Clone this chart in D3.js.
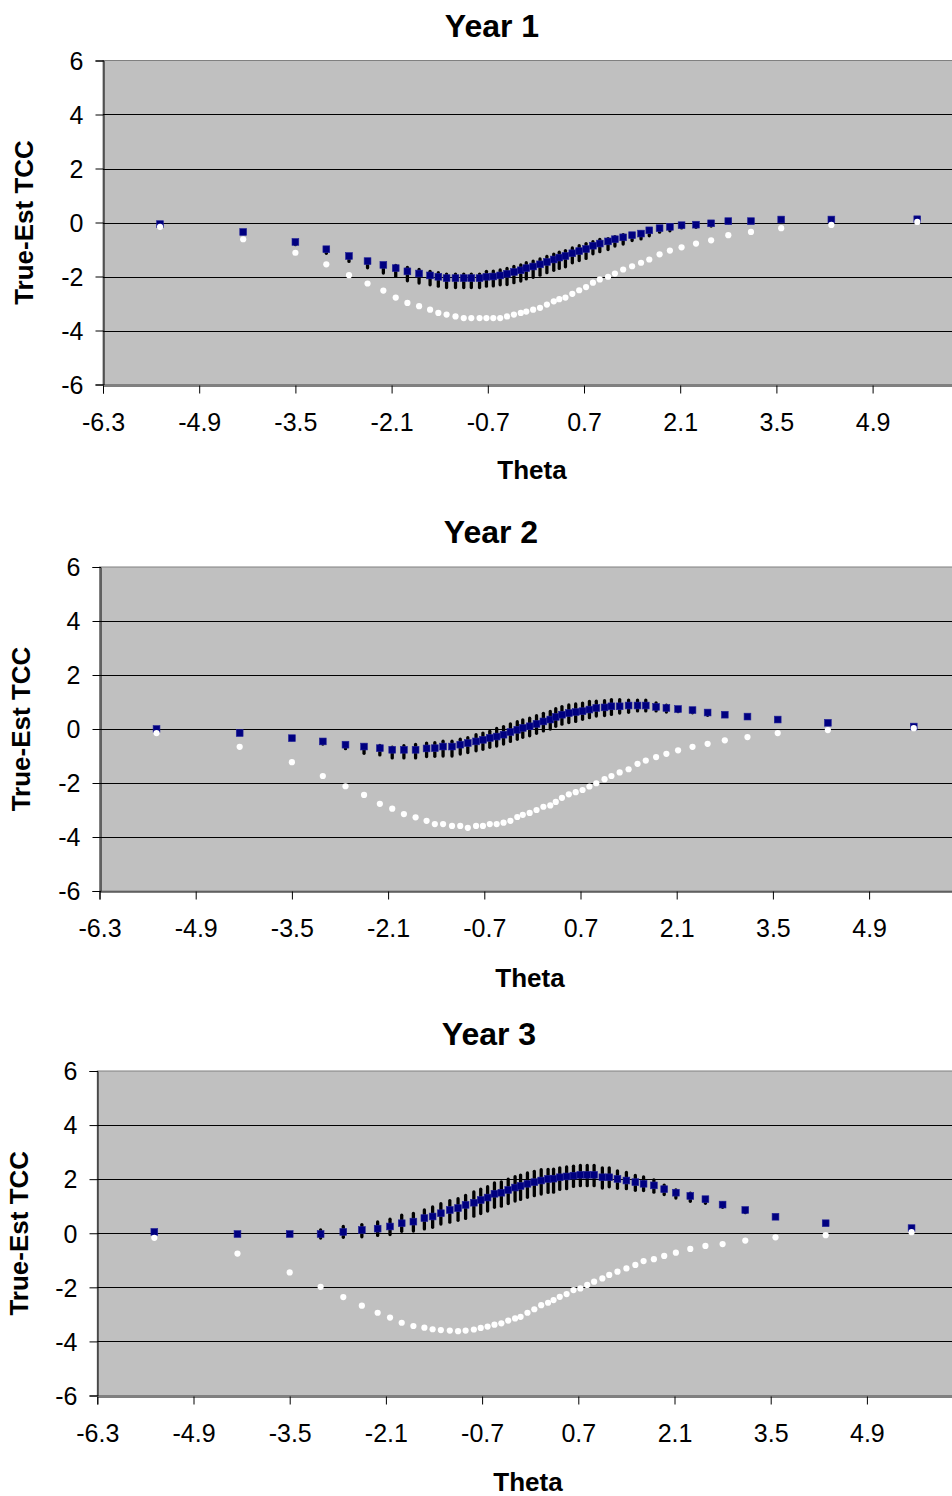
<!DOCTYPE html>
<html>
<head>
<meta charset="utf-8">
<script src="https://cdn.jsdelivr.net/npm/d3@7"></script>
<style>
  body { margin: 0; background: #fff; }
  text { font-family: "Liberation Sans", Arial, sans-serif; }
</style>
</head>
<body>
<svg id="chart" width="952" height="1496"></svg>
<script>
// theta points (same grid in every year)
var theta = [-5.47,-4.26,-3.50,-3.05,-2.72,-2.45,-2.22,-2.04,-1.87,-1.70,-1.54,-1.42,-1.30,-1.17,-1.05,-0.94,-0.82,-0.72,-0.62,-0.52,
  -0.42,-0.32,-0.22,-0.14,-0.04,0.06,0.16,0.26,0.34,0.43,0.53,0.63,0.73,0.83,0.93,1.05,1.15,1.27,1.40,1.53,
  1.65,1.80,1.95,2.12,2.33,2.55,2.80,3.13,3.57,4.30,5.55];

var xTicks = [-6.3, -4.9, -3.5, -2.1, -0.7, 0.7, 2.1, 3.5, 4.9];
var yTicks = [-6, -4, -2, 0, 2, 4, 6];

// Year 1
var mean1 = [-0.06,-0.35,-0.72,-0.99,-1.24,-1.43,-1.57,-1.69,-1.81,-1.89,-1.96,-2.01,-2.06,-2.06,-2.06,-2.06,-2.06,-2.01,-2.00,-1.96,
  -1.90,-1.83,-1.77,-1.69,-1.63,-1.55,-1.46,-1.37,-1.30,-1.24,-1.14,-1.06,-0.98,-0.86,-0.78,-0.70,-0.62,-0.55,-0.47,-0.41,
  -0.29,-0.21,-0.16,-0.10,-0.08,-0.03,0.05,0.05,0.11,0.11,0.12];
var white1 = [-0.16,-0.62,-1.12,-1.55,-1.95,-2.26,-2.52,-2.78,-2.98,-3.10,-3.23,-3.35,-3.41,-3.48,-3.54,-3.54,-3.54,-3.54,-3.54,-3.54,
  -3.48,-3.41,-3.35,-3.30,-3.23,-3.16,-3.04,-2.92,-2.84,-2.78,-2.64,-2.51,-2.39,-2.23,-2.11,-2.01,-1.89,-1.74,-1.62,-1.49,
  -1.37,-1.18,-1.04,-0.92,-0.78,-0.66,-0.47,-0.35,-0.21,-0.09,0.02];
var up1 = [0,0,0,0,0,0.05,0.05,0.1,0.15,0.15,0.15,0.15,0.15,0.15,0.15,0.15,0.15,0.2,0.2,0.2,
  0.2,0.2,0.2,0.2,0.2,0.2,0.2,0.2,0.2,0.2,0.2,0.2,0.2,0.15,0.15,0.1,0.1,0.1,0.05,0.05,
  0.05,0,0,0,0,0,0,0,0,0,0];
var down1 = [0,0.05,0.1,0.15,0.2,0.25,0.3,0.3,0.35,0.35,0.35,0.35,0.35,0.35,0.35,0.35,0.35,0.35,0.35,0.35,
  0.4,0.4,0.4,0.4,0.4,0.4,0.4,0.4,0.4,0.4,0.35,0.35,0.35,0.3,0.3,0.3,0.25,0.25,0.2,0.2,
  0.2,0.15,0.15,0.1,0.1,0.1,0.05,0.05,0,0,0];

// Year 2
var mean2 = [0.00,-0.15,-0.34,-0.46,-0.58,-0.65,-0.71,-0.77,-0.77,-0.77,-0.72,-0.71,-0.65,-0.65,-0.58,-0.52,-0.46,-0.40,-0.33,-0.28,
  -0.21,-0.11,-0.03,0.04,0.10,0.19,0.28,0.35,0.45,0.53,0.59,0.63,0.66,0.72,0.78,0.80,0.84,0.84,0.87,0.87,
  0.87,0.82,0.78,0.74,0.70,0.61,0.53,0.46,0.35,0.23,0.09];
var white2 = [-0.15,-0.66,-1.23,-1.74,-2.12,-2.44,-2.77,-2.95,-3.15,-3.27,-3.40,-3.52,-3.52,-3.59,-3.59,-3.66,-3.59,-3.59,-3.52,-3.52,
  -3.47,-3.40,-3.26,-3.18,-3.11,-3.00,-2.88,-2.83,-2.70,-2.55,-2.42,-2.34,-2.26,-2.13,-2.01,-1.86,-1.74,-1.61,-1.49,-1.29,
  -1.17,-1.04,-0.92,-0.79,-0.66,-0.55,-0.42,-0.30,-0.15,-0.04,0.03];
var up2 = [0,0,0,0,0,0.05,0.1,0.1,0.15,0.2,0.2,0.2,0.2,0.2,0.2,0.2,0.25,0.25,0.25,0.3,
  0.3,0.3,0.3,0.3,0.3,0.3,0.3,0.3,0.3,0.3,0.3,0.3,0.3,0.3,0.25,0.25,0.25,0.25,0.2,0.2,
  0.2,0.15,0.1,0.05,0.05,0,0,0,0,0,0];
var down2 = [0,0.05,0.05,0.1,0.15,0.25,0.25,0.3,0.3,0.3,0.3,0.3,0.35,0.35,0.35,0.35,0.35,0.35,0.35,0.35,
  0.35,0.35,0.35,0.35,0.35,0.35,0.35,0.35,0.35,0.35,0.35,0.35,0.3,0.3,0.3,0.3,0.3,0.25,0.25,0.2,
  0.2,0.15,0.15,0.1,0.1,0.1,0.05,0.05,0,0,0];

// Year 3
var mean3 = [0.05,-0.03,-0.03,-0.03,0.05,0.12,0.17,0.25,0.37,0.43,0.56,0.62,0.74,0.86,0.93,1.05,1.13,1.23,1.32,1.46,
  1.50,1.60,1.69,1.75,1.83,1.89,1.95,2.01,2.02,2.07,2.10,2.13,2.16,2.16,2.16,2.07,2.07,2.01,1.95,1.89,
  1.83,1.77,1.63,1.50,1.38,1.26,1.06,0.86,0.61,0.37,0.19];
var white3 = [-0.17,-0.75,-1.45,-1.98,-2.36,-2.68,-2.94,-3.12,-3.31,-3.43,-3.49,-3.55,-3.58,-3.60,-3.62,-3.60,-3.56,-3.50,-3.45,-3.38,
  -3.33,-3.23,-3.15,-3.09,-2.94,-2.81,-2.66,-2.57,-2.47,-2.35,-2.25,-2.10,-2.04,-1.91,-1.79,-1.67,-1.54,-1.42,-1.30,-1.17,
  -1.03,-0.96,-0.84,-0.72,-0.58,-0.47,-0.40,-0.27,-0.15,-0.07,0.04];
var up3 = [0,0,0.05,0.15,0.2,0.2,0.25,0.27,0.3,0.3,0.3,0.35,0.35,0.35,0.35,0.35,0.4,0.4,0.4,0.4,
  0.4,0.4,0.4,0.4,0.4,0.4,0.4,0.35,0.35,0.35,0.35,0.35,0.35,0.35,0.35,0.35,0.35,0.3,0.3,0.25,
  0.25,0.2,0.15,0.1,0.1,0.05,0.05,0,0,0,0];
var down3 = [0,0.05,0.05,0.15,0.2,0.25,0.25,0.3,0.3,0.35,0.4,0.4,0.4,0.45,0.45,0.5,0.5,0.5,0.5,0.5,
  0.5,0.5,0.5,0.5,0.5,0.5,0.5,0.5,0.5,0.45,0.45,0.4,0.4,0.4,0.4,0.4,0.35,0.35,0.3,0.3,
  0.25,0.25,0.2,0.2,0.2,0.15,0.1,0.1,0.05,0,0];

// panel layout
var panels = [
  { title: "Year 1", mean: mean1, white: white1, up: up1, down: down1,
    left: 103, top: 60.5, bottom: 384.5, titleX: 492, titleY: 37, labX: 532, labY: 479, yLabX: 33 },
  { title: "Year 2", mean: mean2, white: white2, up: up2, down: down2,
    left: 99.5, top: 567, bottom: 891, titleX: 491, titleY: 543, labX: 530, labY: 987, yLabX: 30 },
  { title: "Year 3", mean: mean3, white: white3, up: up3, down: down3,
    left: 97.3, top: 1071, bottom: 1395.5, titleX: 489, titleY: 1045, labX: 528, labY: 1491, yLabX: 28 }
];

var svg = d3.select("#chart");
var pxPerStep = 96.2; // one 1.4 step on the x axis
var hyphen = function (s) { return s.replace("\u2212", "-"); };

panels.forEach(function (p) {
  var x = d3.scaleLinear().domain([-6.3, 6.3]).range([p.left, p.left + pxPerStep * 9]);
  var y = d3.scaleLinear().domain([-6, 6]).range([p.bottom, p.top]);
  var g = svg.append("g");

  // plot area
  g.append("rect")
    .attr("x", x(-6.3)).attr("y", y(6))
    .attr("width", x(6.3) - x(-6.3)).attr("height", y(-6) - y(6))
    .attr("fill", "#c0c0c0").attr("stroke", "#808080").attr("stroke-width", 1);

  // gridlines
  g.selectAll(".grid").data(yTicks.filter(function (d) { return d > -6 && d < 6; }))
    .enter().append("line")
    .attr("x1", x(-6.3)).attr("x2", x(6.3))
    .attr("y1", function (d) { return Math.round(y(d)) + 0.5; })
    .attr("y2", function (d) { return Math.round(y(d)) + 0.5; })
    .attr("stroke", "#000").attr("stroke-width", 1);

  // axes
  var yAxis = d3.axisLeft(y).tickValues(yTicks).tickSize(8).tickPadding(12)
    .tickFormat(function (d) { return hyphen(d3.format("d")(d)); });
  var xAxis = d3.axisBottom(x).tickValues(xTicks).tickSize(8).tickPadding(14)
    .tickFormat(function (d) { return hyphen(d3.format(".1f")(d)); });

  var ya = g.append("g").attr("transform", "translate(" + (Math.round(x(-6.3)) + 0.5) + ",0)").call(yAxis);
  var xa = g.append("g").attr("transform", "translate(0," + (Math.round(y(-6)) + 0.5) + ")").call(xAxis);
  [ya, xa].forEach(function (a) {
    a.select(".domain").attr("stroke", "#000");
    a.selectAll(".tick line").attr("stroke", "#000");
    a.selectAll(".tick text").attr("fill", "#000")
      .style("font-family", "'Liberation Sans', Arial, sans-serif").style("font-size", "25px");
  });
  xa.selectAll(".tick text").attr("dy", "0.95em");
  ya.selectAll(".tick text").attr("dy", "0.35em");

  // spread bars
  g.selectAll(".bar").data(theta).enter().append("line")
    .attr("x1", function (d) { return x(d); })
    .attr("x2", function (d) { return x(d); })
    .attr("y1", function (d, i) { return y(p.mean[i] + p.up[i]); })
    .attr("y2", function (d, i) { return y(p.mean[i] - p.down[i]); })
    .attr("stroke", "#000").attr("stroke-width", 3.3).attr("stroke-linecap", "round");

  // mean squares
  g.selectAll(".sq").data(theta).enter().append("rect")
    .attr("x", function (d) { return x(d) - 3.4; })
    .attr("y", function (d, i) { return y(p.mean[i]) - 3.4; })
    .attr("width", 6.8).attr("height", 6.8)
    .attr("fill", "#000080").attr("stroke", "#22229a").attr("stroke-width", 0.6);

  // white circles
  g.selectAll(".ci").data(theta).enter().append("circle")
    .attr("cx", function (d) { return x(d); })
    .attr("cy", function (d, i) { return y(p.white[i]); })
    .attr("r", 3.1)
    .attr("fill", "#fff");

  // titles
  g.append("text").attr("x", p.titleX).attr("y", p.titleY)
    .attr("text-anchor", "middle").style("font-size", "32px").style("font-weight", "bold")
    .text(p.title);
  g.append("text").attr("x", p.labX).attr("y", p.labY)
    .attr("text-anchor", "middle").style("font-size", "26px").style("font-weight", "bold")
    .text("Theta");
  g.append("text")
    .attr("transform", "translate(" + p.yLabX + "," + ((p.top + p.bottom) / 2) + ") rotate(-90)")
    .attr("text-anchor", "middle").style("font-size", "26px").style("font-weight", "bold")
    .text("True-Est TCC");
});
</script>
</body>
</html>
